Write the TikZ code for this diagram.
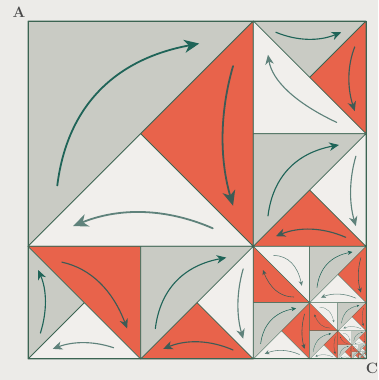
\documentclass[tikz,border=0pt]{standalone}
\usetikzlibrary{arrows.meta,calc}
\definecolor{paper}{HTML}{ECEBE8}
\definecolor{grayc}{HTML}{C9CBC4}
\definecolor{redc}{HTML}{E8634B}
\definecolor{whitec}{HTML}{F1EFEC}
\definecolor{edgec}{HTML}{3B6452}
\definecolor{arrgrayc}{HTML}{1F6458}
\definecolor{arrredc}{HTML}{3E5B55}
\definecolor{arrwhitec}{HTML}{5F827B}
\definecolor{labc}{HTML}{4A4A4A}
\tikzset{edge/.style={draw=edgec, line width=\EW pt, line join=round}}

\newcommand\arrset[1]{%
 \pgfmathsetmacro\AL{min(0.085*#1,15)}%
 \pgfmathsetmacro\AW{min(0.075*#1,13)}%
 \pgfmathsetmacro\AI{0.3*\AL}%
 \pgfmathsetmacro\LW{min(#1/100,1.8)}%
 \pgfmathsetmacro\EW{min(#1/140,0.9)}%
 \tikzset{myarr/.style={line width=\LW pt, line cap=round, -{Stealth[length=\AL pt, width=\AW pt, inset=\AI pt]}}}}

% quadratic arc: #1 colour, #2 start, #3 control, #4 end
\newcommand\qarc[4]{%
 \draw[myarr, #1] (#2) .. controls ($(#2)!0.6667!(#3)$) and ($(#4)!0.6667!(#3)$) .. (#4);}

% gray upper-left half, lower-right half split: right piece #4, bottom piece #5
\newcommand\tileP[5]{%
 \begin{scope}[shift={(#1,#2)}, x=#3pt, y=-#3pt]
 \arrset{#3}
 \fill[grayc] (0,0) -- (1,0) -- (0,1) -- cycle;
 \fill[#4] (1,0) -- (1,1) -- (0.5,0.5) -- cycle;
 \fill[#5] (0,1) -- (1,1) -- (0.5,0.5) -- cycle;
 \draw[edge] (0,0) rectangle (1,1) (1,0) -- (0,1) (0.5,0.5) -- (1,1);
 \qarc{arrgrayc}{0.13,0.73}{0.195,0.205}{0.76,0.10}
 \qarc{arr#4}{0.91,0.2}{0.82,0.51}{0.91,0.82}
 \qarc{arr#5}{0.82,0.92}{0.51,0.785}{0.2,0.91}
 \end{scope}}

% white lower-left half, upper-right split: gray top, red right
\newcommand\tileQ[3]{%
 \begin{scope}[shift={(#1,#2)}, x=#3pt, y=-#3pt]
 \arrset{#3}
 \fill[whitec] (0,0) -- (1,1) -- (0,1) -- cycle;
 \fill[grayc] (0,0) -- (1,0) -- (0.5,0.5) -- cycle;
 \fill[redc] (1,0) -- (1,1) -- (0.5,0.5) -- cycle;
 \draw[edge] (0,0) rectangle (1,1) (0,0) -- (1,1) (1,0) -- (0.5,0.5);
 \qarc{arrgrayc}{0.2,0.1}{0.49,0.22}{0.78,0.1}
 \qarc{arrredc}{0.9,0.23}{0.8,0.485}{0.9,0.8}
 \qarc{arrwhitec}{0.74,0.9}{0.185,0.64}{0.13,0.3}
 \end{scope}}

% red upper-right half, lower-left split: gray left, white bottom
\newcommand\tileR[3]{%
 \begin{scope}[shift={(#1,#2)}, x=#3pt, y=-#3pt]
 \arrset{#3}
 \fill[redc] (0,0) -- (1,0) -- (1,1) -- cycle;
 \fill[grayc] (0,0) -- (0,1) -- (0.5,0.5) -- cycle;
 \fill[whitec] (0,1) -- (1,1) -- (0.5,0.5) -- cycle;
 \draw[edge] (0,0) rectangle (1,1) (0,0) -- (1,1) (0,1) -- (0.5,0.5);
 \qarc{arrredc}{0.3,0.14}{0.69,0.225}{0.88,0.73}
 \qarc{arrgrayc}{0.11,0.77}{0.204,0.47}{0.09,0.21}
 \qarc{arrwhitec}{0.76,0.9}{0.49,0.809}{0.22,0.91}
 \end{scope}}

% red lower-left half, white upper-right half
\newcommand\tileS[3]{%
 \begin{scope}[shift={(#1,#2)}, x=#3pt, y=-#3pt]
 \arrset{#3}
 \fill[redc] (0,0) -- (0,1) -- (1,1) -- cycle;
 \fill[whitec] (0,0) -- (1,0) -- (1,1) -- cycle;
 \draw[edge] (0,0) rectangle (1,1) (0,0) -- (1,1);
 \qarc{arrwhitec}{0.36,0.16}{0.75,0.17}{0.86,0.7}
 \qarc{arrredc}{0.72,0.9}{0.355,0.9}{0.17,0.42}
 \end{scope}}

\begin{document}
\begin{tikzpicture}[x=1pt, y=-1pt]
\useasboundingbox (0,0) rectangle (378,380);
\fill[paper] (0,0) rectangle (378,380);

\tileP{28}{21}{225.333}{redc}{whitec}
\tileQ{253.333}{21}{112.667}
\tileP{253.333}{133.667}{112.667}{whitec}{redc}
\tileR{28}{246.333}{112.667}
\tileP{140.667}{246.333}{112.667}{whitec}{redc}

% corner, level 1
\tileS{253.333}{246.333}{56.333}
\tileP{309.667}{246.333}{56.333}{redc}{whitec}
\tileP{253.333}{302.667}{56.333}{redc}{whitec}
% level 2
\tileS{309.667}{302.667}{28.167}
\tileP{337.833}{302.667}{28.167}{redc}{whitec}
\tileP{309.667}{330.833}{28.167}{redc}{whitec}
% level 3
\tileS{337.833}{330.833}{14.083}
\tileP{351.917}{330.833}{14.083}{redc}{whitec}
\tileP{337.833}{344.917}{14.083}{redc}{whitec}
% level 4
\tileS{351.917}{344.917}{7.042}
\tileP{358.958}{344.917}{7.042}{redc}{whitec}
\tileP{351.917}{351.958}{7.042}{redc}{whitec}
% level 5
\tileS{358.958}{351.958}{3.521}
\tileP{362.479}{351.958}{3.521}{redc}{whitec}
\tileP{358.958}{355.479}{3.521}{redc}{whitec}
\tileS{362.479}{355.479}{3.521}

\draw[draw=edgec, line width=1pt] (28,21) rectangle (366,358);

\node[font=\fontsize{15}{15}\selectfont\bfseries, text=labc] (A) at (19,12) {A};
\node[font=\fontsize{15}{15}\selectfont\bfseries, text=labc] (C) at (372,368) {C};
\end{tikzpicture}
\end{document}
